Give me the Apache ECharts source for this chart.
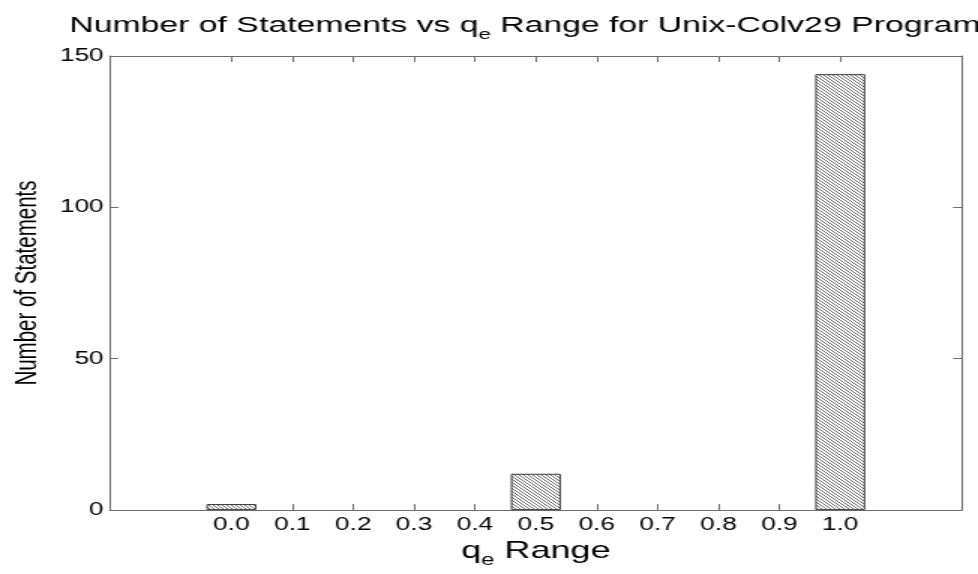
<!DOCTYPE html>
<html>
<head>
<meta charset="utf-8">
<script src="https://cdn.jsdelivr.net/npm/echarts@6/dist/echarts.min.js"></script>
<style>
  html, body { margin: 0; padding: 0; background: #fff; overflow: hidden; }
  /* the figure is drawn at 2/3 width and stretched horizontally, like the wide plot window it comes from */
  #chart { width: 652px; height: 574px; transform: scaleX(1.5); transform-origin: 0 0; }
</style>
</head>
<body>
<div id="chart"></div>
<script>
// q_e range bins and the number of statements falling in each
const categories = [0.0, 0.1, 0.2, 0.3, 0.4, 0.5, 0.6, 0.7, 0.8, 0.9, 1.0];
const statementCounts = [2, 0, 0, 0, 0, 12, 0, 0, 0, 0, 144];
const yTicks = [0, 50, 100, 150];

// fine diagonal hatch fill for the bars
function hatchPattern() {
  const n = 3;
  const c = document.createElement('canvas');
  c.width = n; c.height = n;
  const ctx = c.getContext('2d');
  ctx.fillStyle = '#ffffff';
  ctx.fillRect(0, 0, n, n);
  ctx.fillStyle = '#707070';
  for (let i = 0; i < n; i++) ctx.fillRect(i, i, 1, 1);
  return c;
}

const FONT = '"Liberation Sans", Arial, Helvetica, sans-serif';
const frameColor = '#6e6e6e';

const chart = echarts.init(document.getElementById('chart'), null, { renderer: 'canvas' });

const barData = categories.map((x, i) => ({
  value: [x, statementCounts[i]],
  itemStyle: statementCounts[i] === 0 ? { borderWidth: 0 } : undefined
}));

const tickCommon = { show: true, inside: true, length: 6, lineStyle: { color: frameColor, width: 1 } };

chart.setOption({
  animation: false,
  backgroundColor: '#ffffff',
  title: {
    text: '{m|Number of Statements vs q}{s|e}{m| Range for Unix-Colv29 Program}',
    left: 345,
    top: 9,
    textAlign: 'center',
    textStyle: {
      fontFamily: FONT,
      fontSize: 22.5,
      fontWeight: 'normal',
      color: '#000',
      rich: {
        m: { fontFamily: FONT, fontSize: 22.5, color: '#000', lineHeight: 24, verticalAlign: 'top' },
        s: { fontFamily: FONT, fontSize: 15, color: '#000', lineHeight: 15, verticalAlign: 'top', padding: [13, 0, 0, 0] }
      }
    }
  },
  grid: { left: 58.67, right: 10.67, top: 56, bottom: 56, containLabel: false },
  xAxis: [
    {
      type: 'value',
      position: 'bottom',
      min: -0.2,
      max: 1.2,
      interval: 0.1,
      name: '{m|q}{s|e}{m| Range}',
      nameLocation: 'middle',
      nameGap: 23,
      nameTextStyle: {
        fontFamily: FONT,
        fontSize: 24,
        color: '#000',
        rich: {
          m: { fontFamily: FONT, fontSize: 24, color: '#000', lineHeight: 26, verticalAlign: 'top' },
          s: { fontFamily: FONT, fontSize: 16, color: '#000', lineHeight: 16, verticalAlign: 'top', padding: [14, 0, 0, 0] }
        }
      },
      axisLine: { show: true, onZero: false, lineStyle: { color: frameColor, width: 1 } },
      axisTick: Object.assign({ customValues: categories }, tickCommon),
      axisLabel: {
        customValues: categories,
        formatter: v => v.toFixed(1),
        fontFamily: FONT,
        fontSize: 17.5,
        color: '#000',
        margin: 6
      },
      splitLine: { show: false }
    },
    {
      type: 'value',
      position: 'top',
      min: -0.2,
      max: 1.2,
      interval: 0.1,
      axisLine: { show: true, onZero: false, lineStyle: { color: frameColor, width: 1 } },
      axisTick: Object.assign({ customValues: categories }, tickCommon),
      axisLabel: { show: false },
      splitLine: { show: false }
    }
  ],
  yAxis: [
    {
      type: 'value',
      position: 'left',
      min: 0,
      max: 150,
      interval: 50,
      name: 'Number of Statements',
      nameLocation: 'middle',
      nameGap: 37,
      nameRotate: 90,
      nameTextStyle: { fontFamily: FONT, fontSize: 20.5, color: '#000' },
      axisLine: { show: true, onZero: false, lineStyle: { color: frameColor, width: 1 } },
      axisTick: Object.assign({ customValues: yTicks }, tickCommon),
      axisLabel: {
        customValues: yTicks,
        fontFamily: FONT,
        fontSize: 17.5,
        color: '#000',
        margin: 4
      },
      splitLine: { show: false }
    },
    {
      type: 'value',
      position: 'right',
      min: 0,
      max: 150,
      interval: 50,
      axisLine: { show: true, onZero: false, lineStyle: { color: frameColor, width: 1 } },
      axisTick: Object.assign({ customValues: yTicks }, tickCommon),
      axisLabel: { show: false },
      splitLine: { show: false }
    }
  ],
  series: [
    {
      type: 'bar',
      xAxisIndex: 0,
      yAxisIndex: 0,
      barWidth: 33.33,
      data: barData,
      itemStyle: {
        color: { image: hatchPattern(), repeat: 'repeat' },
        borderColor: '#3a3a3a',
        borderWidth: 1
      },
      emphasis: { disabled: true }
    }
  ]
});
</script>
</body>
</html>
